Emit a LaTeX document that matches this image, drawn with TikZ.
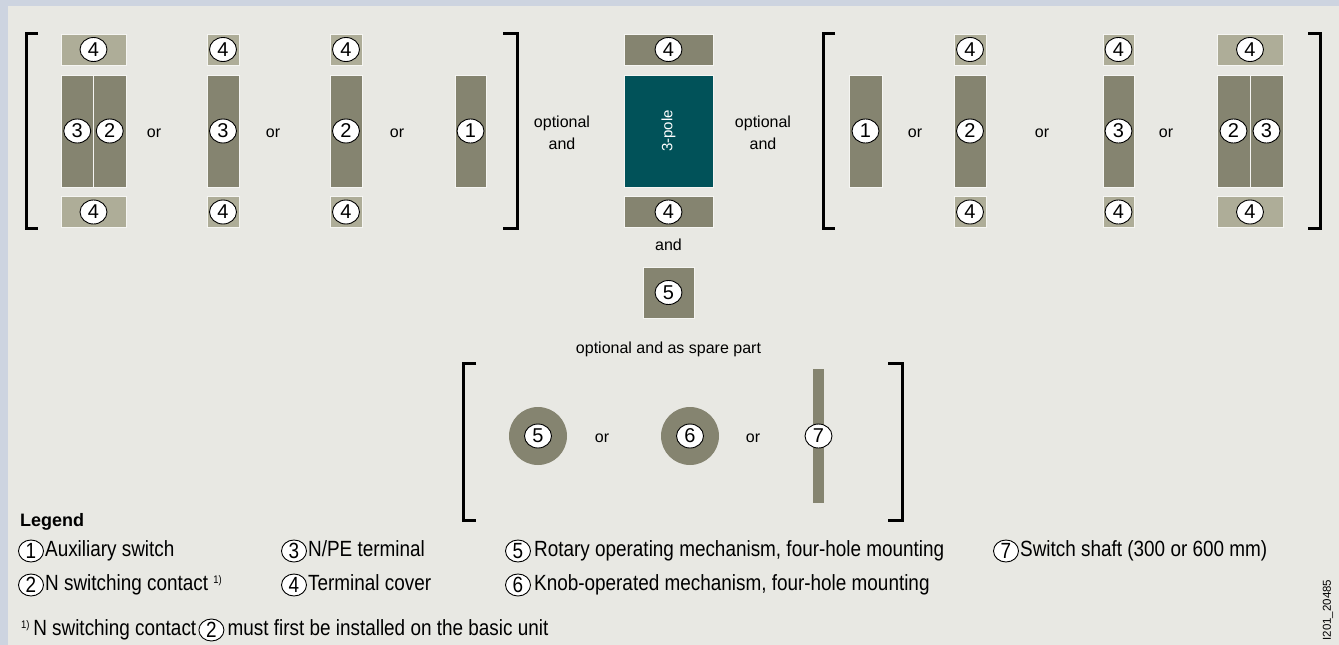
\documentclass[tikz,border=0pt]{standalone}
\usepackage{fontspec}
\setmainfont{Liberation Sans}
\newfontfamily\legendfont[FakeStretch=0.86]{Liberation Sans}
\usetikzlibrary{positioning, shapes.geometric}
\definecolor{framecol}{HTML}{CDD4E0}
\definecolor{bgcol}{HTML}{E8E8E3}
\definecolor{partcol}{HTML}{858470}
\definecolor{covercol}{HTML}{AEAD98}
\definecolor{polecol}{HTML}{015259}
\newcommand{\supone}{\raisebox{7pt}{\fontsize{11}{11}\selectfont 1)}}
\tikzset{
    part/.style={fill=partcol, draw=white!55!bgcol, line width=0.7pt, inner sep=0pt},
    cover/.style={part, fill=covercol, minimum height=31pt},
    disk/.style={circle, fill=partcol, inner sep=0pt, minimum size=58pt},
    num/.style={ellipse, draw=black, line width=0.9pt, fill=white, inner sep=0pt, minimum width=27pt, minimum height=24pt, font=\fontsize{20}{20}\selectfont},
    legnum/.style={ellipse, draw=black, line width=0.9pt, fill=white, inner sep=0pt, minimum width=25pt, minimum height=22pt, font=\legendfont\fontsize{22}{22}\selectfont},
    legtext/.style={inner sep=0pt, anchor=west, text height=16pt, text depth=5pt, font=\legendfont\fontsize{22}{22}\selectfont},
    word/.style={font=\fontsize{16}{22}\selectfont, align=center},
    brk/.style={line width=3pt}
}

\begin{document}
\begin{tikzpicture}[x=1pt, y=-1pt]
    \useasboundingbox (0,0) rectangle (1339,645);
    \fill[framecol] (0,0) rectangle (1339,645);
    \fill[bgcol] (8,6) rectangle (1339,645);

    % left group
    \draw[brk] (38,33) -- (26,33) -- (26,228) -- (38,228);
    \draw[brk] (503,33) -- (517,33) -- (517,228) -- (503,228);
    \node[cover, minimum width=65pt, label={[num]center:4}] (lt1) at (93.5,49.5) {};
    \node[part, minimum width=32.5pt, minimum height=112pt, label={[num]center:3}] (lm1a) at (77.25,131) {};
    \node[part, minimum width=32.5pt, minimum height=112pt, label={[num]center:2}] (lm1b) at (109.75,131) {};
    \node[cover, minimum width=65pt, label={[num]center:4}] (lb1) at (93.5,212) {};
    \node[word] (lor1) at (154,133) {or};
    \node[cover, minimum width=32pt, label={[num]center:4}] (lt2) at (223,49.5) {};
    \node[part, minimum width=32pt, minimum height=112pt, label={[num]center:3}] (lm2) at (223,131) {};
    \node[cover, minimum width=32pt, label={[num]center:4}] (lb2) at (223,212) {};
    \node[word] (lor2) at (273,133) {or};
    \node[cover, minimum width=32pt, label={[num]center:4}] (lt3) at (346,49.5) {};
    \node[part, minimum width=32pt, minimum height=112pt, label={[num]center:2}] (lm3) at (346,131) {};
    \node[cover, minimum width=32pt, label={[num]center:4}] (lb3) at (346,212) {};
    \node[word] (lor3) at (397,133) {or};
    \node[part, minimum width=31pt, minimum height=112pt, label={[num]center:1}] (lm4) at (470.5,131) {};

    % basic unit
    \node[word] (opt1) at (562,133) {optional\\and};
    \node[part, minimum width=89pt, minimum height=31pt, label={[num]center:4}] (ct) at (668.5,49.5) {};
    \node[part, fill=polecol, minimum width=89pt, minimum height=112pt,
          label={[rotate=90, text=white, font=\fontsize{15}{15}\selectfont]center:3-pole}] (pole) at (668.5,131) {};
    \node[part, minimum width=89pt, minimum height=31pt, label={[num]center:4}] (cb) at (668.5,212) {};
    \node[word] (opt2) at (763,133) {optional\\and};
    \node[word] (and) at (668.5,245) {and};
    \node[part, minimum width=51pt, minimum height=51pt, label={[num]center:5}] (m5) at (668.5,292.5) {};

    % right group
    \draw[brk] (835,33) -- (823,33) -- (823,228) -- (835,228);
    \draw[brk] (1308,33) -- (1320,33) -- (1320,228) -- (1308,228);
    \node[part, minimum width=33pt, minimum height=112pt, label={[num]center:1}] (rm1) at (865.5,131) {};
    \node[word] (ror1) at (915,133) {or};
    \node[cover, minimum width=32pt, label={[num]center:4}] (rt2) at (970,49.5) {};
    \node[part, minimum width=32pt, minimum height=112pt, label={[num]center:2}] (rm2) at (970,131) {};
    \node[cover, minimum width=32pt, label={[num]center:4}] (rb2) at (970,212) {};
    \node[word] (ror2) at (1042,133) {or};
    \node[cover, minimum width=31pt, label={[num]center:4}] (rt3) at (1118.5,49.5) {};
    \node[part, minimum width=31pt, minimum height=112pt, label={[num]center:3}] (rm3) at (1118.5,131) {};
    \node[cover, minimum width=31pt, label={[num]center:4}] (rb3) at (1118.5,212) {};
    \node[word] (ror3) at (1166,133) {or};
    \node[cover, minimum width=66pt, label={[num]center:4}] (rt4) at (1250,49.5) {};
    \node[part, minimum width=33pt, minimum height=112pt, label={[num]center:2}] (rm4a) at (1233.5,131) {};
    \node[part, minimum width=33pt, minimum height=112pt, label={[num]center:3}] (rm4b) at (1266.5,131) {};
    \node[cover, minimum width=66pt, label={[num]center:4}] (rb4) at (1250,212) {};

    % operating parts
    \node[word] (spare) at (668.5,349) {optional and as spare part};
    \draw[brk] (476,363) -- (463,363) -- (463,520) -- (476,520);
    \draw[brk] (888,363) -- (902,363) -- (902,520) -- (888,520);
    \node[disk, label={[num]center:5}] (d5) at (538,436) {};
    \node[word] (sor1) at (602,438) {or};
    \node[disk, label={[num]center:6}] (d6) at (690,436) {};
    \node[word] (sor2) at (753,438) {or};
    \node[part, draw=none, minimum width=11pt, minimum height=134pt, label={[num]center:7}] (shaft) at (818.5,436) {};

    % legend
    \node[anchor=west, inner sep=0pt, font=\bfseries\fontsize{18}{18}\selectfont] (leg) at (20,522) {Legend};
    \node[legnum] (k1) at (31,551) {1};
    \node[legtext, right=1pt of k1] (t1) {Auxiliary switch};
    \node[legnum] (k2) at (31,585) {2};
    \node[legtext, right=1pt of k2] (t2) {N switching contact \supone};
    \node[legnum] (k3) at (294,551) {3};
    \node[legtext, right=1pt of k3] (t3) {N/PE terminal};
    \node[legnum] (k4) at (294,585) {4};
    \node[legtext, right=1pt of k4] (t4) {Terminal cover};
    \node[legnum] (k5) at (518,551) {5};
    \node[legtext, right=3pt of k5] (t5) {Rotary operating mechanism, four-hole mounting};
    \node[legnum] (k6) at (518,585) {6};
    \node[legtext, right=3pt of k6] (t6) {Knob-operated mechanism, four-hole mounting};
    \node[legnum] (k7) at (1006,551) {7};
    \node[legtext, right=1pt of k7] (t7) {Switch shaft (300 or 600 mm)};
    \node[legtext] (fn) at (21,630) {\supone\,N switching contact};
    \node[legnum, right=2pt of fn] (fk2) {2};
    \node[legtext, right=3pt of fk2] (fn2) {must first be installed on the basic unit};

    \node[rotate=90, font=\fontsize{11.5}{11.5}\selectfont] (id) at (1328,610) {I201\_20485};
\end{tikzpicture}
\end{document}
